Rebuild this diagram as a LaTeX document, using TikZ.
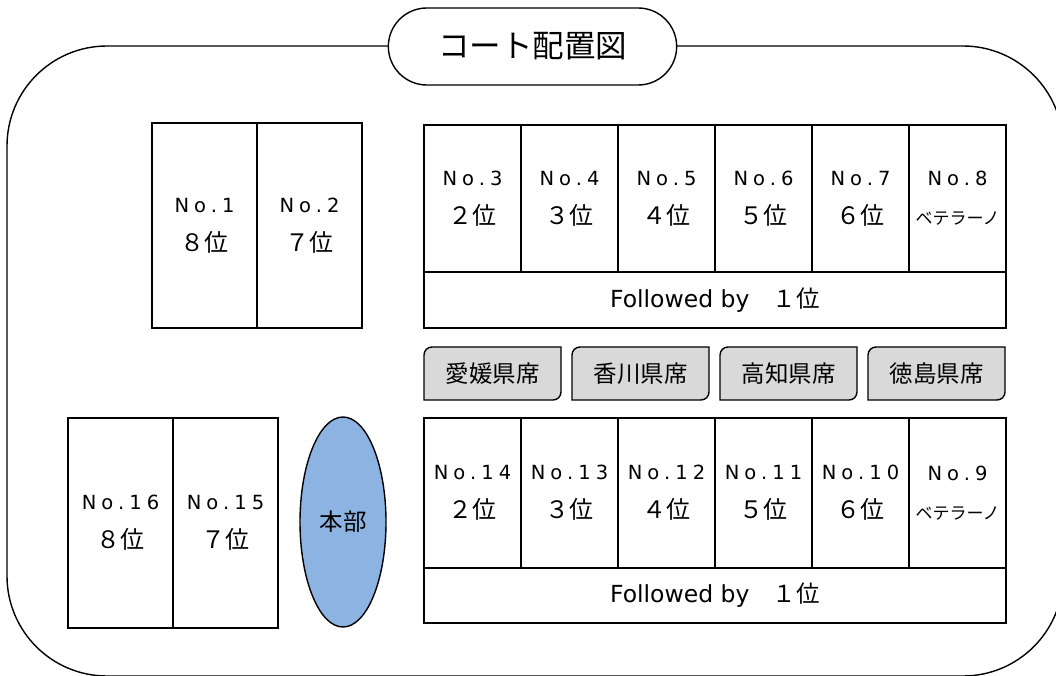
\documentclass[tikz,border=0pt]{standalone}
\usepackage{fontspec}
\setmainfont{DejaVu Sans}
\newfontfamily\jpfont{Noto Sans CJK JP}
\newfontfamily\nofont[LetterSpace=26]{DejaVu Sans}
\usetikzlibrary{positioning,backgrounds,shapes.geometric,shapes.misc}
\definecolor{hqblue}{HTML}{8DB3E2}
\definecolor{seatgray}{HTML}{D9D9D9}
\newcommand{\numtext}[1]{{\nofont\fontsize{19.5}{19.5}\selectfont #1}}
\newcommand{\veterano}{{\fontsize{17}{17}\selectfont ベテラーノ}}
\tikzset{
    %Define style for court cells
    court/.style={
           rectangle,
           draw=black, line width=1.4pt,
           minimum width=97pt,
           minimum height=147pt,
           inner sep=0pt, outer sep=0pt,
           align=center,
           font=\jpfont\fontsize{24}{39}\selectfont},
    tall/.style={
           minimum width=105pt,
           minimum height=205pt},
    low/.style={
           minimum height=150pt},
    %Define style for the ranking rows
    follow/.style={
           rectangle,
           draw=black, line width=1.4pt,
           minimum width=582pt,
           minimum height=56pt,
           inner sep=0pt, outer sep=0pt,
           font=\fontsize{23.5}{28}\selectfont},
    %Define style for seat boxes
    seat/.style={
           rectangle,
           minimum width=137pt,
           minimum height=53pt,
           inner sep=0pt, outer sep=0pt,
           font=\jpfont\fontsize{23.5}{28}\selectfont},
    seatline/.style={
           draw=black, line width=1.4pt,
           fill=seatgray},
    title/.style={
           rounded rectangle,
           draw=black, line width=1.4pt,
           fill=white,
           minimum width=295pt,
           minimum height=77pt,
           font=\jpfont\fontsize{31.5}{36}\selectfont},
    hq/.style={
           ellipse,
           draw=black, line width=1.4pt,
           fill=hqblue,
           minimum width=86pt,
           minimum height=210pt,
           inner sep=0pt,
           font=\jpfont\fontsize{23.5}{28}\selectfont}
}
\begin{document}
\begin{tikzpicture}[x=1pt,y=1pt,line width=1.4pt]
\useasboundingbox (0,0) rectangle (1056,675);
\clip (0,0) rectangle (1056,675);
% outer border and title
\draw[rounded corners=100pt] (7,-1) rectangle (1063,629);
\node[title](title) at (532.5,628.5){コート配置図};
% courts 1 and 2
\node[court, tall, anchor=north west](1) at (152,552){\numtext{No.1}\\８位};
\node[court, tall, right=0pt of 1](2){\numtext{No.2}\\７位};
% courts 3 to 8
\node[court, anchor=north west](3) at (424,550){\numtext{No.3}\\２位};
\node[court, right=0pt of 3](4){\numtext{No.4}\\３位};
\node[court, right=0pt of 4](5){\numtext{No.5}\\４位};
\node[court, right=0pt of 5](6){\numtext{No.6}\\５位};
\node[court, right=0pt of 6](7){\numtext{No.7}\\６位};
\node[court, right=0pt of 7](8){\numtext{No.8}\\\veterano};
\node[follow, anchor=north west](f1) at (3.south west){Followed by{\jpfont 　１位}};
% seats
\node[seat, anchor=north west](s1) at (424,328){愛媛県席};
\node[seat, right=11pt of s1](s2){香川県席};
\node[seat, right=11pt of s2](s3){高知県席};
\node[seat, right=11pt of s3](s4){徳島県席};
\begin{scope}[on background layer]
\foreach \s in {s1,s2,s3,s4}
  \draw[seatline] (\s.south west) -- ([yshift=-8pt]\s.north west)
    arc[start angle=180,end angle=90,radius=8pt] -- (\s.north east)
    -- ([yshift=8pt]\s.south east)
    arc[start angle=0,end angle=-90,radius=8pt] -- cycle;
\end{scope}
% courts 14 to 9
\node[court, low, anchor=north west](14) at (424,257){\numtext{No.14}\\２位};
\node[court, low, right=0pt of 14](13){\numtext{No.13}\\３位};
\node[court, low, right=0pt of 13](12){\numtext{No.12}\\４位};
\node[court, low, right=0pt of 12](11){\numtext{No.11}\\５位};
\node[court, low, right=0pt of 11](10){\numtext{No.10}\\６位};
\node[court, low, right=0pt of 10](9){\numtext{No.9}\\\veterano};
\node[follow, minimum height=55pt, anchor=north west](f2) at (14.south west){Followed by{\jpfont 　１位}};
% courts 16 and 15, headquarters
\node[court, tall, minimum height=210pt, anchor=north west](16) at (68,257){\numtext{No.16}\\８位};
\node[court, tall, minimum height=210pt, right=0pt of 16](15){\numtext{No.15}\\７位};
\node[hq](hq) at (343,153){本部};
\end{tikzpicture}
\end{document}
